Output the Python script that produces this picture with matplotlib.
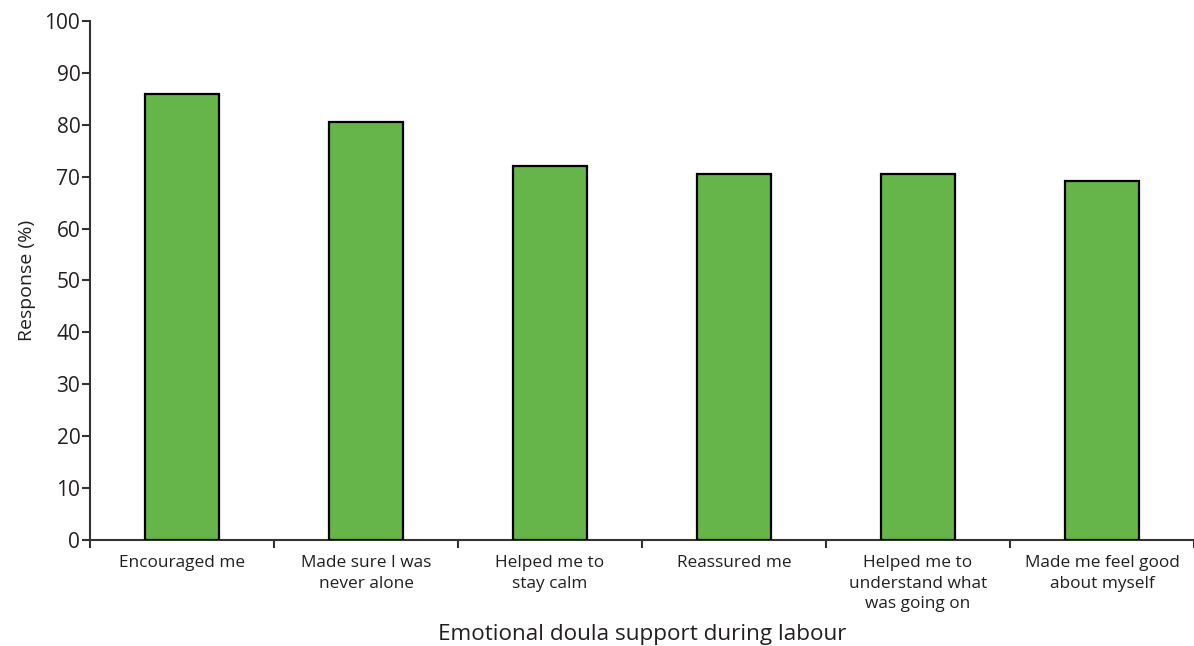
import matplotlib.pyplot as plt
import numpy as np

categories = ['Encouraged me', 'Made sure I was\nnever alone', 'Helped me to\nstay calm',
              'Reassured me', 'Helped me to\nunderstand what\nwas going on',
              'Made me feel good\nabout myself']
responses = [86.0, 80.5, 72.0, 70.6, 70.6, 69.2]
yticks = [0, 10, 20, 30, 40, 50, 60, 70, 80, 90, 100]

plt.rcParams['font.family'] = ['Open Sans', 'DejaVu Sans']
text_color = '#231f20'

fig = plt.figure(figsize=(11.94, 6.46), dpi=100)
ax = fig.add_axes([0.0754, 0.164, 0.9246, 0.8036])

x = np.arange(len(categories))
ax.bar(x, responses, width=0.4, color='#66b54a', edgecolor='black', linewidth=1.6, zorder=3)

ax.set_xlim(-0.5, len(categories) - 0.5)
ax.set_ylim(0, 100)
ax.set_yticks(yticks)
ax.set_yticklabels([str(t) for t in yticks], fontsize=15, color=text_color)

# boundary ticks as major, labels on minor ticks at the bar centres
ax.set_xticks(np.arange(len(categories) + 1) - 0.5)
ax.set_xticklabels([])
ax.set_xticks(x, minor=True)
ax.set_xticklabels(categories, minor=True, fontsize=12.4, color=text_color, linespacing=1.38)
ax.tick_params(axis='x', which='minor', length=0, pad=11)
ax.tick_params(axis='x', which='major', length=6, width=1.5, color='#333333')
ax.tick_params(axis='y', length=6, width=1.5, color='#333333', pad=1)

for side in ['top', 'right']:
    ax.spines[side].set_visible(False)
for side in ['left', 'bottom']:
    ax.spines[side].set_linewidth(1.5)
    ax.spines[side].set_color('#333333')

ax.set_ylabel('Response (%)', fontsize=14, color=text_color, labelpad=6)
ax.set_xlabel('Emotional doula support during labour', fontsize=16.2, color=text_color, labelpad=8)

plt.savefig('out.png', dpi=100)
plt.close()
